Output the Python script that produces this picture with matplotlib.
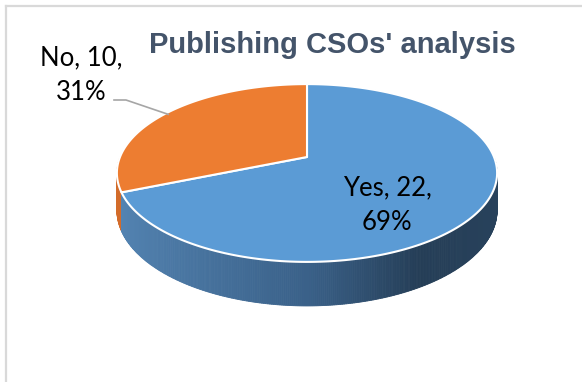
import numpy as np
import matplotlib.pyplot as plt
from matplotlib.patches import Polygon
from matplotlib.lines import Line2D
from matplotlib.colors import LinearSegmentedColormap

# survey answers
labels = ['Yes', 'No']
counts = [22, 10]
top_colors = ['#5b9bd5', '#ed7d31']
title = "Publishing CSOs' analysis"

# side shading, left to right across the front of the disk
side_cmaps = [
    LinearSegmentedColormap.from_list('blue_side', [(0.0, '#5586b5'), (0.5, '#3a6189'),
                                                    (0.75, '#253e57'), (1.0, '#28425c')]),
    LinearSegmentedColormap.from_list('orange_side', [(0.0, '#d46c2a'), (1.0, '#a8531f')]),
]

# view settings for the tilted disk
K = 0.18        # perspective strength
TILT = 0.46     # vertical squash of the disk
DEPTH = 0.193   # thickness of the disk
SCALE = 187     # pixels per unit radius
CX, CY = 307, 157


def project(t_deg, r=1.0, drop=0.0):
    t = np.radians(t_deg)
    u, v = r * np.cos(t), r * np.sin(t)
    w = 1 + K * v
    return u / w, (v * TILT - drop) / w


def to_data(px, py):
    return (px - CX) / SCALE, (CY - py) / SCALE


fig = plt.figure(figsize=(5.82, 3.82), dpi=100)
ax = fig.add_axes([0, 0, 1, 1])
ax.set_xlim(-CX / SCALE, (582 - CX) / SCALE)
ax.set_ylim(-(382 - CY) / SCALE, CY / SCALE)
ax.axis('off')

total = sum(counts)
fracs = np.array(counts) / total
# slices run clockwise from 12 o'clock
edges = 90 - 360 * np.concatenate([[0], np.cumsum(fracs)])

# side wall, drawn back to front
cum_deg = 360 * np.cumsum(fracs)
strips = []
ts = np.arange(180, 360.01, 0.5)
for t0, t1 in zip(ts[:-1], ts[1:]):
    tm = (t0 + t1) / 2
    off = (90 - tm) % 360
    i = int(np.searchsorted(cum_deg, off, side='right'))
    shade = (np.cos(np.radians(tm)) + 1) / 2
    color = side_cmaps[i](shade)
    x0, y0 = project(t0)
    x1, y1 = project(t1)
    x2, y2 = project(t1, drop=DEPTH)
    x3, y3 = project(t0, drop=DEPTH)
    strips.append((np.sin(np.radians(tm)), [(x0, y0), (x1, y1), (x2, y2), (x3, y3)], color))
for _, pts, color in sorted(strips, key=lambda s: -s[0]):
    ax.add_patch(Polygon(pts, closed=True, facecolor=color, edgecolor=color, lw=0.6, zorder=1))

# top face
for i in range(len(counts)):
    t = np.linspace(edges[i], edges[i + 1], 200)
    xs, ys = project(t)
    pts = [(0, 0)] + list(zip(xs, ys))
    ax.add_patch(Polygon(pts, closed=True, facecolor=top_colors[i], edgecolor='white',
                         lw=1.5, joinstyle='round', zorder=2))

label_font = dict(family='Lato', fontsize=18.5, color='black', ha='center', va='center',
                  linespacing=1.5, zorder=3)
texts = [f'{lab}, {c},\n{round(100 * c / total)}%' for lab, c in zip(labels, counts)]

ax.text(*to_data(387, 205), texts[0], **label_font)
ax.text(*to_data(81, 75), texts[1], **label_font)

# leader line for the outside label
mid_no = (edges[1] + edges[2]) / 2
ex, ey = project(mid_no, r=0.98)
lx0, ly = to_data(114, 100)
lx1, _ = to_data(126, 100)
ax.plot([lx0, lx1, ex], [ly, ly, ey], color='#a6a6a6', lw=1.2, zorder=3)

fig.text(332 / 582, 1 - 45 / 382, title, ha='center', va='center', fontsize=21,
         fontweight='bold', family='Liberation Sans', color='#44546a')

# chart area frame
fig.add_artist(Line2D([6 / 582, 1], [1 - 6 / 382, 1 - 6 / 382], color='#d9d9d9', lw=1.6))
fig.add_artist(Line2D([6 / 582, 6 / 582], [0, 1 - 6 / 382], color='#d9d9d9', lw=1.6))

fig.savefig('out.png', dpi=100)
